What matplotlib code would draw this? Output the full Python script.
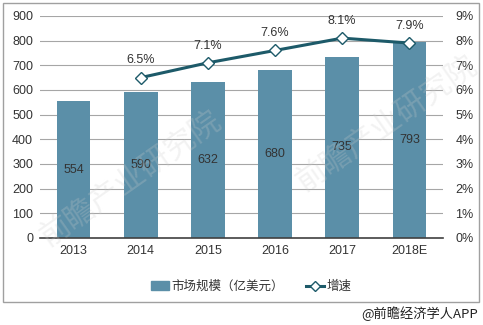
import matplotlib.pyplot as plt
from matplotlib.patches import Rectangle
from matplotlib.lines import Line2D
from matplotlib.ticker import FuncFormatter

plt.rcParams['font.family'] = ['Liberation Sans', 'Noto Sans CJK SC', 'DejaVu Sans']

# 数据
years = ['2013', '2014', '2015', '2016', '2017', '2018E']
market_size = [554, 590, 632, 680, 735, 793]      # 亿美元
growth_years = ['2014', '2015', '2016', '2017', '2018E']
growth = [6.5, 7.1, 7.6, 8.1, 7.9]                # %

bar_color = '#5b8fa8'
line_color = '#1d5a69'
txt = '#333333'

fig = plt.figure(figsize=(4.83, 3.25), dpi=100)
ax = fig.add_axes([0.083, 0.268, 0.834, 0.683])

x = range(len(years))
ax.bar(x, market_size, width=0.5, color=bar_color, zorder=2)
for i, v in zip(x, market_size):
    ax.text(i, v / 2, str(v), ha='center', va='center', fontsize=9, color=txt, zorder=3)

ax.set_ylim(0, 900)
ax.set_yticks(range(0, 901, 100))
ax.set_xlim(-0.5, len(years) - 0.5)
ax.set_xticks(list(x))
ax.set_xticklabels(years)
ax.grid(axis='y', color='#a6a6a6', linewidth=0.8, zorder=0)
for s in ['top', 'right', 'left']:
    ax.spines[s].set_visible(False)
ax.spines['bottom'].set_color('#404040')
ax.spines['bottom'].set_linewidth(1.2)
ax.tick_params(length=0, labelsize=9, colors=txt, pad=5)

# 增速折线（右轴）
ax2 = ax.twinx()
gx = [years.index(y) for y in growth_years]
ax2.plot(gx, growth, color=line_color, linewidth=2.2, marker='D', markersize=6,
         markerfacecolor='white', markeredgecolor=line_color, markeredgewidth=1, zorder=4)
for i, g in zip(gx, growth):
    ax2.annotate(f'{g}%', (i, g), xytext=(0, 8), textcoords='offset points',
                 ha='center', va='bottom', fontsize=9, color=txt)
ax2.set_ylim(0, 9)
ax2.set_yticks(range(0, 10))
ax2.yaxis.set_major_formatter(FuncFormatter(lambda v, p: f'{int(v)}%'))
for s in ax2.spines.values():
    s.set_visible(False)
ax2.tick_params(length=0, labelsize=9, colors=txt, pad=9)

# 图例
handles = [
    Rectangle((0, 0), 1, 1, color=bar_color),
    Line2D([], [], color=line_color, linewidth=2.2, marker='D', markersize=5,
           markerfacecolor='white', markeredgecolor=line_color),
]
fig.legend(handles, ['市场规模（亿美元）', '增速'], loc='center', bbox_to_anchor=(0.52, 0.117),
           ncol=2, frameon=False, fontsize=9, handlelength=1.4, handletextpad=0.2,
           columnspacing=1.8, labelcolor=txt)

# 水印
fig.text(0.27, 0.45, '前瞻产业研究院', fontsize=22, color='#cccccc', alpha=0.25,
         rotation=35, ha='center', va='center', family=['Noto Sans CJK SC'], zorder=10)
fig.text(0.80, 0.62, '前瞻产业研究院', fontsize=22, color='#cccccc', alpha=0.25,
         rotation=35, ha='center', va='center', family=['Noto Sans CJK SC'], zorder=10)

# 外框与来源
fig.patches.append(Rectangle((0.006, 0.071), 0.986, 0.92, transform=fig.transFigure,
                             fill=False, edgecolor='#a0a0a0', linewidth=1))
fig.text(0.99, 0.035, '@前瞻经济学人APP', ha='right', va='center', fontsize=9.5,
         color='#222222', family=['Noto Sans CJK SC', 'DejaVu Sans'])

fig.savefig('out.png', dpi=100)
